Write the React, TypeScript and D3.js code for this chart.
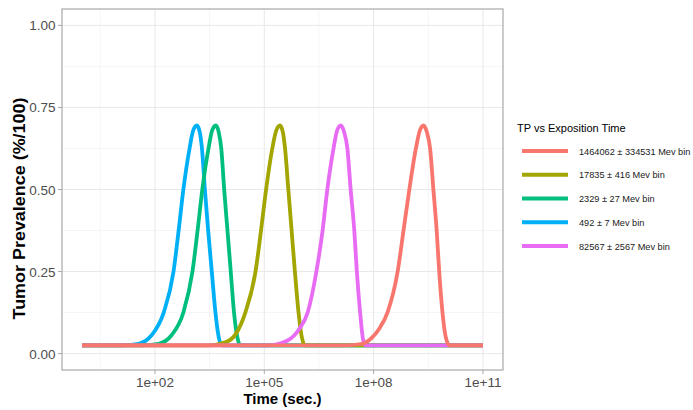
import React, { useEffect, useRef } from 'react';
import * as d3 from 'd3';

// legend entries, in the order they are listed
const seriesLabels = [
  '1464062 ± 334531 Mev bin',
  '17835 ± 416 Mev bin',
  '2329 ± 27 Mev bin',
  '492 ± 7 Mev bin',
  '82567 ± 2567 Mev bin',
];
const seriesColors = ['#F8766D', '#A3A500', '#00BF7D', '#00B0F6', '#E76BF3'];

// log10 of the time (sec.) and the tumor prevalence
const logT1464062 = [0, 7.2, 7.69, 7.93, 8.15, 8.38, 8.66, 8.82, 8.98, 9.16, 9.27, 9.37, 9.46, 9.55, 9.64, 9.73, 9.8, 9.89, 9.98, 10.08, 11];
const tp1464062 = [0.025, 0.025, 0.03, 0.046, 0.075, 0.125, 0.25, 0.375, 0.5, 0.625, 0.68, 0.695, 0.675, 0.625, 0.5, 0.375, 0.25, 0.125, 0.05, 0.025, 0.025];

const logT17835 = [0, 3.45, 3.95, 4.22, 4.48, 4.76, 4.91, 5.05, 5.22, 5.33, 5.43, 5.51, 5.57, 5.66, 5.75, 5.84, 5.94, 6.03, 6.12, 11];
const tp17835 = [0.025, 0.025, 0.035, 0.06, 0.125, 0.25, 0.375, 0.5, 0.625, 0.68, 0.695, 0.675, 0.625, 0.5, 0.375, 0.25, 0.125, 0.05, 0.025, 0.025];

const logT2329 = [0, 1.6, 2.1, 2.45, 2.78, 3.03, 3.17, 3.3, 3.47, 3.57, 3.67, 3.75, 3.82, 3.9, 3.99, 4.08, 4.17, 4.26, 4.35, 11];
const tp2329 = [0.025, 0.025, 0.03, 0.055, 0.125, 0.25, 0.375, 0.5, 0.625, 0.68, 0.695, 0.675, 0.625, 0.5, 0.375, 0.25, 0.125, 0.05, 0.025, 0.025];

const logT492 = [0, 1.05, 1.55, 1.9, 2.24, 2.51, 2.65, 2.78, 2.95, 3.05, 3.15, 3.23, 3.29, 3.37, 3.46, 3.56, 3.66, 3.75, 3.84, 11];
const tp492 = [0.025, 0.025, 0.03, 0.055, 0.125, 0.25, 0.375, 0.5, 0.625, 0.68, 0.695, 0.675, 0.625, 0.5, 0.375, 0.25, 0.125, 0.05, 0.025, 0.025];

const logT82567 = [0, 5.1, 5.64, 5.96, 6.19, 6.43, 6.6, 6.73, 6.9, 7.0, 7.1, 7.19, 7.28, 7.37, 7.47, 7.54, 7.63, 7.7, 7.77, 11];
const tp82567 = [0.025, 0.025, 0.04, 0.075, 0.125, 0.25, 0.375, 0.5, 0.625, 0.68, 0.695, 0.675, 0.625, 0.5, 0.375, 0.25, 0.125, 0.05, 0.025, 0.025];

const seriesLogT = [logT1464062, logT17835, logT2329, logT492, logT82567];
const seriesTp = [tp1464062, tp17835, tp2329, tp492, tp82567];

// axes
const xTicks = [1e2, 1e5, 1e8, 1e11];
const xTickLabels = ['1e+02', '1e+05', '1e+08', '1e+11'];
const xMinor = [10 ** 0.5, 10 ** 3.5, 10 ** 6.5, 10 ** 9.5];
const yTicks = [0, 0.25, 0.5, 0.75, 1];
const yTickLabels = ['0.00', '0.25', '0.50', '0.75', '1.00'];
const yMinor = [0.125, 0.375, 0.625, 0.875];

const FONT = "'Liberation Sans', Arial, sans-serif";

export default function App() {
  const ref = useRef<SVGSVGElement>(null);

  useEffect(() => {
    const svg = d3.select(ref.current);
    svg.selectAll('*').remove();

    const panel = { left: 62, right: 503, top: 9, bottom: 370 };

    // ggplot-like 5% expansion on both axes
    const x = d3.scaleLog()
      .domain([10 ** -0.55, 10 ** 11.55])
      .range([panel.left, panel.right]);
    const y = d3.scaleLinear()
      .domain([-0.05, 1.05])
      .range([panel.bottom, panel.top]);

    // grid
    const grid = svg.append('g');
    grid.selectAll('.xminor').data(xMinor).enter().append('line')
      .attr('x1', d => x(d)).attr('x2', d => x(d))
      .attr('y1', panel.top).attr('y2', panel.bottom)
      .attr('stroke', '#F0F0F0').attr('stroke-width', 0.7);
    grid.selectAll('.yminor').data(yMinor).enter().append('line')
      .attr('x1', panel.left).attr('x2', panel.right)
      .attr('y1', d => y(d)).attr('y2', d => y(d))
      .attr('stroke', '#F0F0F0').attr('stroke-width', 0.7);
    grid.selectAll('.xmajor').data(xTicks).enter().append('line')
      .attr('x1', d => x(d)).attr('x2', d => x(d))
      .attr('y1', panel.top).attr('y2', panel.bottom)
      .attr('stroke', '#E8E8E8').attr('stroke-width', 1);
    grid.selectAll('.ymajor').data(yTicks).enter().append('line')
      .attr('x1', panel.left).attr('x2', panel.right)
      .attr('y1', d => y(d)).attr('y2', d => y(d))
      .attr('stroke', '#E8E8E8').attr('stroke-width', 1);

    // curves; the first series goes on top, like the picture
    const line = d3.line<[number, number]>()
      .x(d => x(10 ** d[0]))
      .y(d => y(d[1]))
      .curve(d3.curveMonotoneX);

    const order = [3, 2, 1, 4, 0];
    order.forEach(i => {
      const pts = seriesLogT[i].map((t, k) => [t, seriesTp[i][k]] as [number, number]);
      svg.append('path')
        .attr('d', line(pts))
        .attr('fill', 'none')
        .attr('stroke', seriesColors[i])
        .attr('stroke-width', 3.8)
        .attr('stroke-linejoin', 'round')
        .attr('stroke-linecap', 'butt');
    });

    // panel border
    svg.append('rect')
      .attr('x', panel.left).attr('y', panel.top)
      .attr('width', panel.right - panel.left)
      .attr('height', panel.bottom - panel.top)
      .attr('fill', 'none')
      .attr('stroke', '#A8A8A8')
      .attr('stroke-width', 1.2);

    // x axis
    const xa = svg.append('g');
    xa.selectAll('line').data(xTicks).enter().append('line')
      .attr('x1', d => x(d)).attr('x2', d => x(d))
      .attr('y1', panel.bottom).attr('y2', panel.bottom + 4)
      .attr('stroke', '#A8A8A8').attr('stroke-width', 1);
    xa.selectAll('text').data(xTicks).enter().append('text')
      .attr('x', d => x(d))
      .attr('y', 387)
      .attr('text-anchor', 'middle')
      .style('font-family', FONT)
      .style('font-size', '13.5px')
      .attr('fill', '#4D4D4D')
      .text((d, i) => xTickLabels[i]);

    // y axis
    const ya = svg.append('g');
    ya.selectAll('line').data(yTicks).enter().append('line')
      .attr('x1', panel.left - 4).attr('x2', panel.left)
      .attr('y1', d => y(d)).attr('y2', d => y(d))
      .attr('stroke', '#A8A8A8').attr('stroke-width', 1);
    ya.selectAll('text').data(yTicks).enter().append('text')
      .attr('x', 55.5)
      .attr('y', d => y(d) + 5)
      .attr('text-anchor', 'end')
      .style('font-family', FONT)
      .style('font-size', '13.5px')
      .attr('fill', '#4D4D4D')
      .text((d, i) => yTickLabels[i]);

    // axis titles
    svg.append('text')
      .attr('x', (panel.left + panel.right) / 2)
      .attr('y', 403.5)
      .attr('text-anchor', 'middle')
      .style('font-family', FONT)
      .style('font-size', '15px')
      .style('font-weight', 'bold')
      .text('Time (sec.)');

    svg.append('text')
      .attr('transform', 'translate(25,208.5) rotate(-90)')
      .attr('text-anchor', 'middle')
      .attr('textLength', 222)
      .attr('lengthAdjust', 'spacingAndGlyphs')
      .style('font-family', FONT)
      .style('font-size', '16px')
      .style('font-weight', 'bold')
      .text('Tumor Prevalence (%/100)');

    // legend
    const lg = svg.append('g');
    lg.append('text')
      .attr('x', 517)
      .attr('y', 131.5)
      .style('font-family', FONT)
      .style('font-size', '11px')
      .text('TP vs Exposition Time');

    const keyY = d3.scalePoint<number>()
      .domain(d3.range(seriesLabels.length))
      .range([151, 246]);

    seriesLabels.forEach((label, i) => {
      lg.append('line')
        .attr('x1', 522).attr('x2', 568)
        .attr('y1', keyY(i)!).attr('y2', keyY(i)!)
        .attr('stroke', seriesColors[i])
        .attr('stroke-width', 4);
      lg.append('text')
        .attr('x', 579)
        .attr('y', keyY(i)! + 3.6)
        .style('font-family', FONT)
        .style('font-size', '9.2px')
        .attr('fill', '#1A1A1A')
        .text(label);
    });
  }, []);

  return (
    <svg
      ref={ref}
      width={693}
      height={410}
      style={{ position: 'absolute', left: 0, top: 0, background: '#fff' }}
    />
  );
}
